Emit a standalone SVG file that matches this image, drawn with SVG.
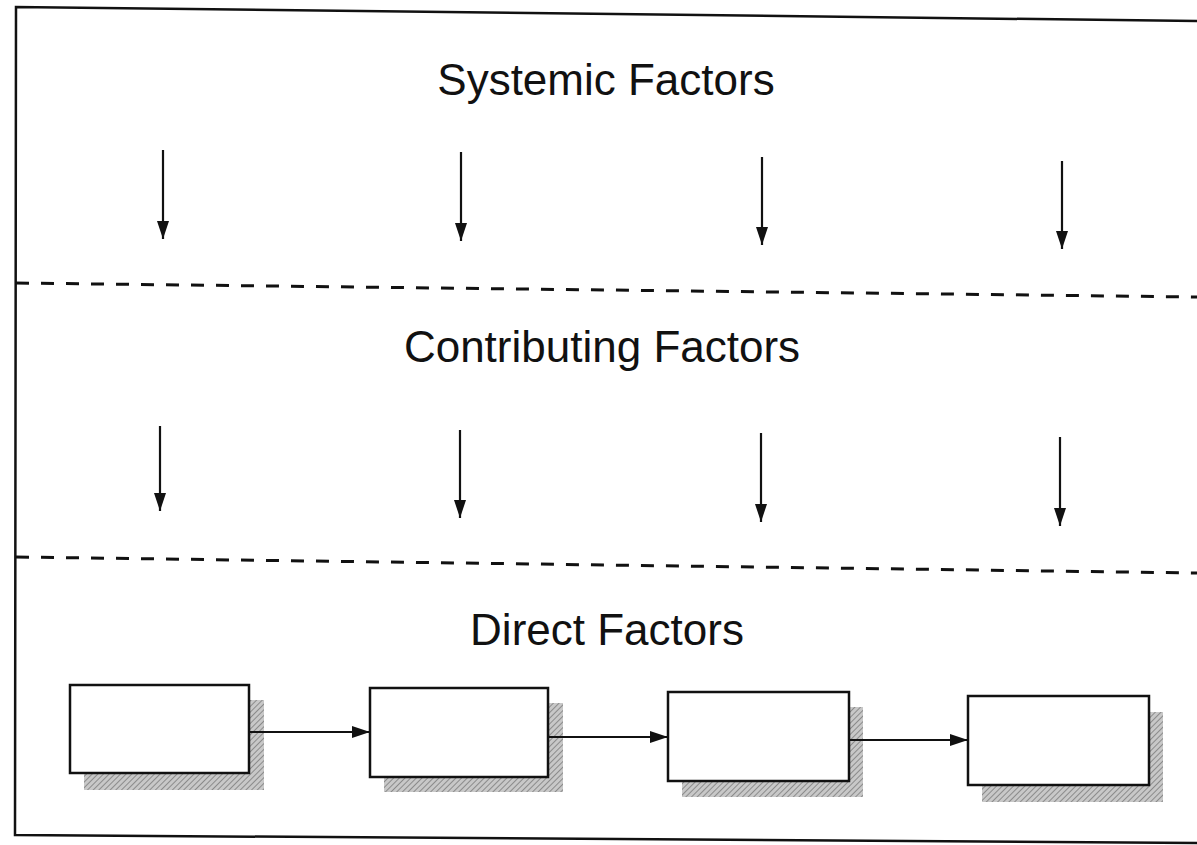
<svg xmlns="http://www.w3.org/2000/svg" width="1197" height="845" viewBox="0 0 1197 845">
<defs>
<pattern id="hatch" width="4" height="4" patternUnits="userSpaceOnUse" patternTransform="rotate(45)">
<rect width="4" height="4" fill="#c8c8c8"/>
<line x1="0" y1="0" x2="0" y2="4" stroke="#777" stroke-width="1.5"/>
</pattern>
<marker id="ah" viewBox="0 0 18 12" refX="18" refY="6" markerWidth="18" markerHeight="12" markerUnits="userSpaceOnUse" orient="auto">
<path d="M0,0 L18,6 L0,12 Z" fill="#111"/>
</marker>
<style>
.frame{fill:none;stroke:#111;stroke-width:2.5}
.dash{fill:none;stroke:#111;stroke-width:3;stroke-dasharray:13 12}
.arr{fill:none;stroke:#111;stroke-width:2.2;marker-end:url(#ah)}
.box{fill:#fff;stroke:#111;stroke-width:2.5}
.shadow{fill:url(#hatch);stroke:none}
.lbl{font-family:"Liberation Sans",Arial,sans-serif;font-size:44px;fill:#111;text-anchor:middle}
</style>
</defs>
<rect width="1197" height="845" fill="#fff"/>
<g id="frame">
<path class="frame" d="M1197,21 L16,7 L15,835 L1197,843"/>
<path class="dash" d="M16,283 L1197,297"/>
<path class="dash" d="M16,557 L1197,573"/>
</g>
<g id="systemic"><text class="lbl" x="606" y="95">Systemic Factors</text></g>
<g id="contributing"><text class="lbl" x="602" y="362">Contributing Factors</text></g>
<g id="direct"><text class="lbl" x="607" y="645">Direct Factors</text></g>
<g id="box1"><rect class="shadow" x="84" y="700" width="180" height="90"/><rect class="box" x="70" y="685" width="179" height="88"/></g>
<g id="box2"><rect class="shadow" x="384" y="703" width="179" height="89"/><rect class="box" x="370" y="688" width="178" height="89"/></g>
<g id="box3"><rect class="shadow" x="682" y="707" width="181" height="90"/><rect class="box" x="668" y="692" width="181" height="89"/></g>
<g id="box4"><rect class="shadow" x="982" y="712" width="181" height="90"/><rect class="box" x="968" y="696" width="181" height="89"/></g>
<g id="connectors">
<line class="arr" x1="163" y1="150" x2="163" y2="239"/>
<line class="arr" x1="461" y1="152" x2="461" y2="241"/>
<line class="arr" x1="762" y1="157" x2="762" y2="245"/>
<line class="arr" x1="1062" y1="161" x2="1062" y2="249"/>
<line class="arr" x1="160" y1="426" x2="160" y2="511"/>
<line class="arr" x1="460" y1="430" x2="460" y2="518"/>
<line class="arr" x1="761" y1="433" x2="761" y2="522"/>
<line class="arr" x1="1060" y1="437" x2="1060" y2="526"/>
<line class="arr" x1="249" y1="732" x2="370" y2="732"/>
<line class="arr" x1="548" y1="737" x2="668" y2="737"/>
<line class="arr" x1="849" y1="740" x2="968" y2="740"/>
</g>
</svg>
